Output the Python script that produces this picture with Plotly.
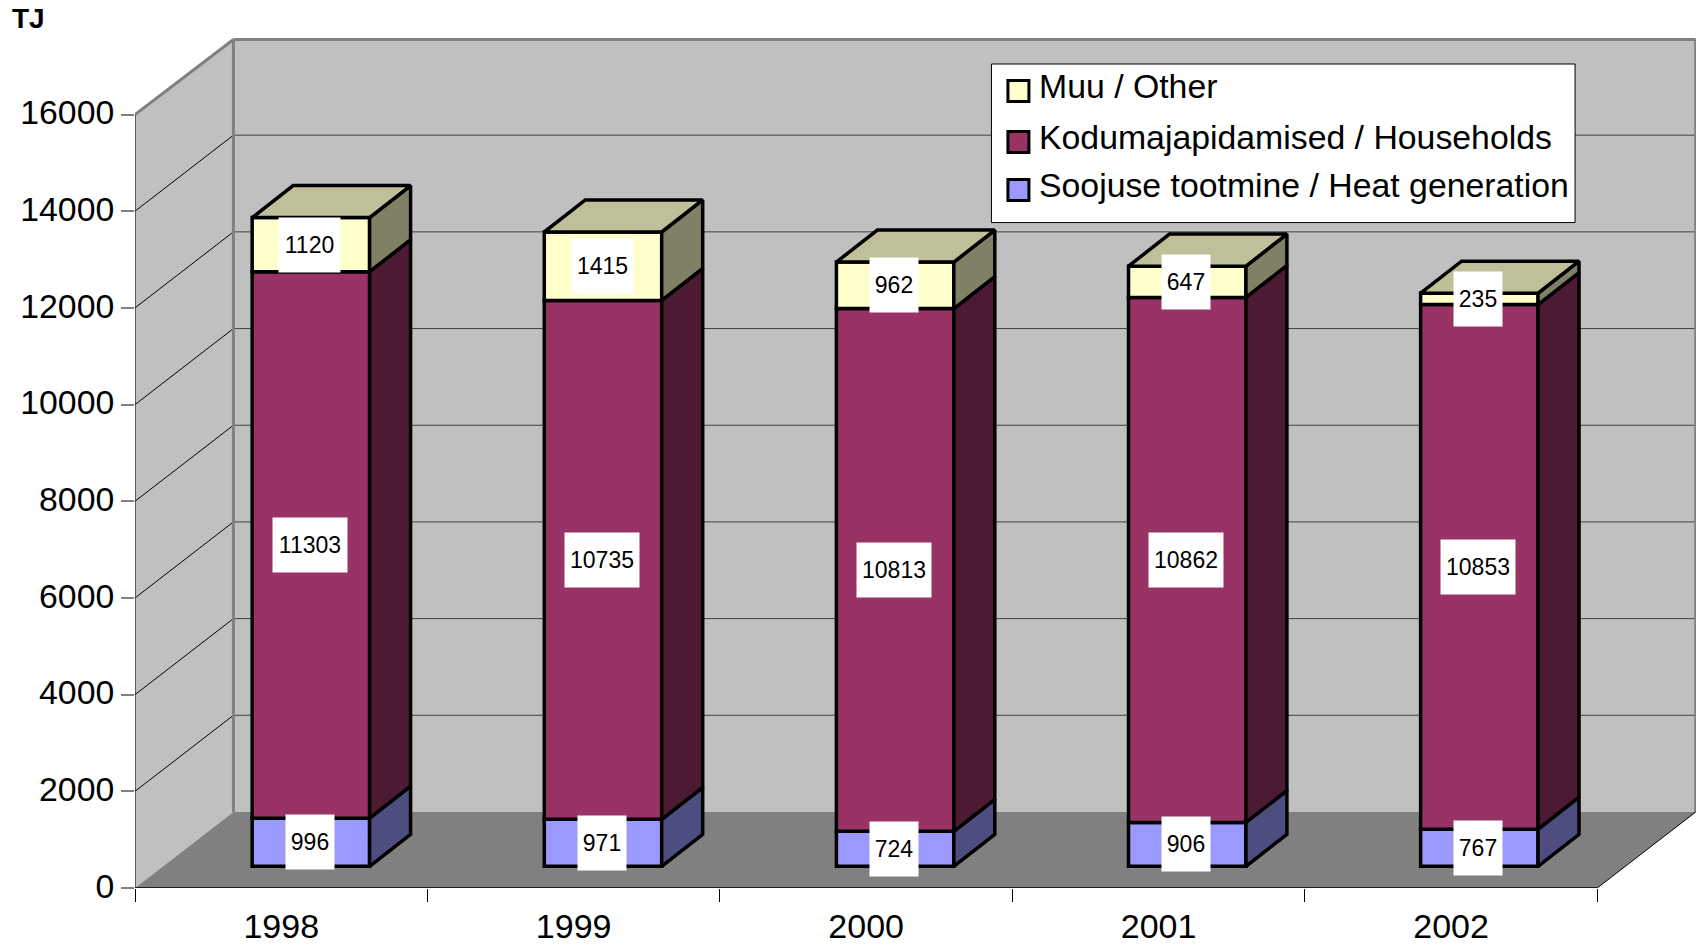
import plotly.graph_objects as go

YEARS = ["1998", "1999", "2000", "2001", "2002"]
HEAT = [996, 971, 724, 906, 767]
HOUSEHOLDS = [11303, 10735, 10813, 10862, 10853]
OTHER = [1120, 1415, 962, 647, 235]
SERIES = [
    ("Soojuse tootmine / Heat generation", HEAT, "#9999FF", "#4D4D80"),
    ("Kodumajapidamised / Households", HOUSEHOLDS, "#993366", "#4D1A33"),
    ("Muu / Other", OTHER, "#FFFFCC", "#808066"),
]
TOP_FACE = "#BFBF99"
Y_TICKS = [0, 2000, 4000, 6000, 8000, 10000, 12000, 14000, 16000]

# layout geometry (pixels)
W, H = 1702, 947
L, R, T, B = 134.5, 5.5, 38.0, 59.3
CAT_PX = 292.64
VAL_PX = 0.048325
XMAX = (W - L - R) / CAT_PX
YMAX = (H - T - B) / VAL_PX
# oblique projection, in data units
WALL_DX, WALL_DY = 98.5 / CAT_PX, 76.0 / VAL_PX
BAR_DX, BAR_DY = 41.0 / CAT_PX, 32.0 / VAL_PX
BAR_W = 117.5 / CAT_PX
BAR_X0 = (310.5 - L) / CAT_PX
BAR_STEP = 292.3 / CAT_PX
BAR_BASE = 21.7 / VAL_PX
N = len(YEARS)
WALL = "#C0C0C0"
FLOOR = "#808080"
OUTLINE = 3.5


def px_x(p):
    return (p - L) / (W - L - R)


def px_y(p):
    return 1 - (p - T) / (H - T - B)


fig = go.Figure()
shapes = []


def poly(xs, ys, fill, line=None, width=0):
    path = "M" + "L".join(f"{a},{b}" for a, b in zip(xs, ys)) + "Z"
    shapes.append(dict(type="path", path=path, fillcolor=fill, layer="below",
                       line=dict(color=line or fill, width=width)))


def seg(x0, y0, x1, y1, color, width):
    shapes.append(dict(type="line", x0=x0, y0=y0, x1=x1, y1=y1, layer="below",
                       line=dict(color=color, width=width)))


top = Y_TICKS[-1]
TOP_BACK = YMAX - 1.5 / VAL_PX
poly([0, WALL_DX, WALL_DX, 0], [0, WALL_DY, TOP_BACK, top], WALL)
poly([WALL_DX, XMAX, XMAX, WALL_DX], [WALL_DY, WALL_DY, TOP_BACK, TOP_BACK], WALL)
poly([0, N, N + WALL_DX, WALL_DX], [0, 0, WALL_DY, WALL_DY], FLOOR)
for v in Y_TICKS[1:-1]:
    seg(0, v, WALL_DX, v + WALL_DY, "#000000", 1)
    seg(WALL_DX, v + WALL_DY, N + WALL_DX, v + WALL_DY, "#404040", 1)
seg(0, top, WALL_DX, TOP_BACK, FLOOR, 3)
seg(WALL_DX, TOP_BACK, N + WALL_DX, TOP_BACK, FLOOR, 3)
seg(WALL_DX, WALL_DY, WALL_DX, TOP_BACK, FLOOR, 3)
seg(N + WALL_DX, WALL_DY, N + WALL_DX, TOP_BACK, FLOOR, 3)
seg(0, 0, 0, top, "#000000", 1)
seg(0, 0, N, 0, "#000000", 1.5)
seg(N, 0, N + WALL_DX, WALL_DY, "#000000", 1)

bar_x = [BAR_X0 + i * BAR_STEP for i in range(N)]
base = [BAR_BASE] * N
label_items = []
for name, vals, color, side in SERIES:
    fig.add_trace(go.Bar(x=bar_x, y=vals, base=list(base), width=BAR_W, name=name,
                         marker=dict(color=color, line=dict(color="#000000", width=OUTLINE)),
                         showlegend=False, hoverinfo="y+name"))
    sx, sy = [], []
    for i in range(N):
        r = bar_x[i] + BAR_W / 2
        sx += [r, r + BAR_DX, r + BAR_DX, r, r, None]
        sy += [base[i], base[i] + BAR_DY, base[i] + vals[i] + BAR_DY, base[i] + vals[i], base[i], None]
        label_items.append((bar_x[i], base[i] + vals[i] / 2, vals[i]))
    fig.add_trace(go.Scatter(x=sx, y=sy, mode="lines", fill="toself", fillcolor=side,
                             line=dict(color="#000000", width=OUTLINE), showlegend=False, hoverinfo="skip"))
    base = [b + v for b, v in zip(base, vals)]

tx, ty = [], []
for i in range(N):
    l, r = bar_x[i] - BAR_W / 2, bar_x[i] + BAR_W / 2
    tx += [l, r, r + BAR_DX, l + BAR_DX, l, None]
    ty += [base[i], base[i], base[i] + BAR_DY, base[i] + BAR_DY, base[i], None]
fig.add_trace(go.Scatter(x=tx, y=ty, mode="lines", fill="toself", fillcolor=TOP_FACE,
                         line=dict(color="#000000", width=OUTLINE), showlegend=False, hoverinfo="skip"))

annotations = []
LABEL_W = {3: 48, 4: 61, 5: 74}
for x, y, v in label_items:
    s = str(v)
    annotations.append(dict(x=x, y=y, xref="x", yref="y", text=s, showarrow=False, yshift=0, xshift=-1,
                            width=LABEL_W[len(s)], height=54, bgcolor="#FFFFFF", borderpad=0,
                            font=dict(family="Liberation Sans", size=23, color="#000000")))

annotations.append(dict(x=px_x(9), y=px_y(19), xref="paper", yref="paper", text="<b>TJ</b>", showarrow=False,
                        xanchor="left", yanchor="middle", font=dict(family="Liberation Sans", size=28, color="#000000")))

# legend box
LEG = (991.5, 64, 1575.5, 222.5)
shapes_above = [dict(type="rect", xref="paper", yref="paper", x0=px_x(LEG[0]), x1=px_x(LEG[2]),
                     y0=px_y(LEG[1]), y1=px_y(LEG[3]), fillcolor="#FFFFFF", layer="above",
                     line=dict(color="#000000", width=1))]
ROWS = [87, 138, 186]
for (name, vals, color, side), cy in zip(reversed(SERIES), ROWS):
    shapes_above.append(dict(type="rect", xref="paper", yref="paper", layer="above",
                             x0=px_x(1008), x1=px_x(1029), y0=px_y(cy + 4 - 10.5 + 21), y1=px_y(cy + 4 - 10.5),
                             fillcolor=color, line=dict(color="#000000", width=3)))
    annotations.append(dict(x=px_x(1037), y=px_y(cy - 1), xref="paper", yref="paper", text=name, showarrow=False,
                            xanchor="left", yanchor="middle",
                            font=dict(family="Liberation Sans", size=33.8, color="#000000")))

fig.update_layout(
    width=W, height=H, margin=dict(l=L, r=R, t=T, b=B, pad=0, autoexpand=False),
    paper_bgcolor="#FFFFFF", plot_bgcolor="#FFFFFF", barmode="overlay", showlegend=False,
    shapes=shapes + shapes_above, annotations=annotations,
    font=dict(family="Liberation Sans", color="#000000"),
    xaxis=dict(range=[0, XMAX], showgrid=False, zeroline=False, showline=False,
               tickmode="array", tickvals=[i + 0.5 for i in range(N)], ticktext=YEARS, ticks="",
               tickfont=dict(size=34), ticklabelstandoff=15,
               minor=dict(tickmode="array", tickvals=list(range(N + 1)), ticks="outside",
                          ticklen=13, tickcolor="#000000", tickwidth=1, showgrid=False)),
    yaxis=dict(range=[0, YMAX], showgrid=False, zeroline=False, showline=False,
               tickmode="array", tickvals=Y_TICKS, ticktext=[str(v) for v in Y_TICKS],
               ticks="outside", ticklen=13, ticklabelshift=-2,
               tickcolor="#808080", tickwidth=1.5, tickfont=dict(size=33.8)),
)

fig.write_html("out.html", config=dict(displayModeBar=False, responsive=False),
               post_script="document.body.style.margin='0';")
